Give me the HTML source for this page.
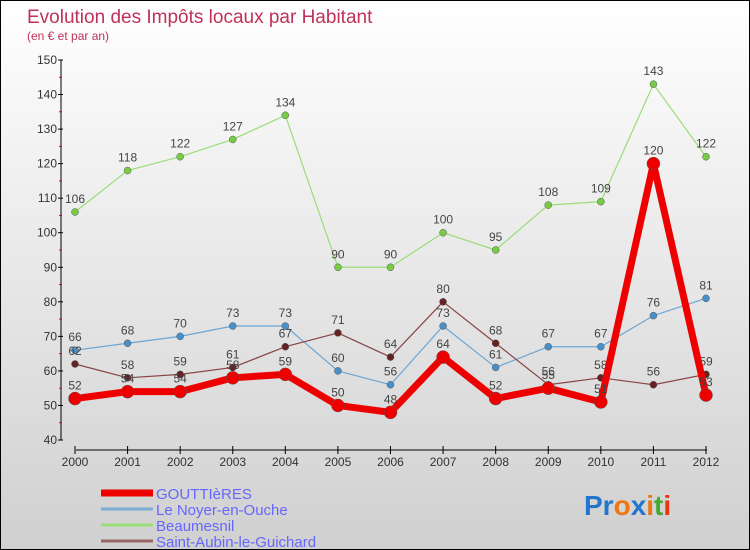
<!DOCTYPE html>
<html><head><meta charset="utf-8"><style>
body{margin:0}
#wrap{width:748px;height:548px;border:1px solid #000;background:linear-gradient(#fff,#d0d0d0);position:relative;font-family:"Liberation Sans",sans-serif;overflow:hidden}
</style></head><body>
<div id="wrap">
<svg id="chart" width="748" height="548"></svg>
</div>
<script>
const years=["2000","2001","2002","2003","2004","2005","2006","2007","2008","2009","2010","2011","2012"];
const gouttieres=[52,54,54,58,59,50,48,64,52,55,51,120,53];
const noyer=[66,68,70,73,73,60,56,73,61,67,67,76,81];
const beaumesnil=[106,118,122,127,134,90,90,100,95,108,109,143,122];
const saintAubin=[62,58,59,61,67,71,64,80,68,56,58,56,59];
const yTicks=[40,50,60,70,80,90,100,110,120,130,140,150];
const NS="http://www.w3.org/2000/svg";
const svg=document.getElementById('chart');
function x(i){return 75+i*(706-75)/12-1;}
function y(v){return 440-(v-40)*380/110-1;}
function mk(t,a,p){const e=document.createElementNS(NS,t);for(const k in a)e.setAttribute(k,a[k]);(p||svg).appendChild(e);return e;}
function txt(s,a){const e=mk('text',a);e.textContent=s;return e;}
let t=txt('Evolution des Impôts locaux par Habitant',{x:26,y:22,fill:'#c0305a','font-size':19});

t=txt('(en € et par an)',{x:26,y:39,fill:'#c0305a','font-size':12});

let ax=mk('line',{x1:60,y1:59,x2:60,y2:439,stroke:'#000'});

ax=mk('line',{x1:75,y1:449,x2:706,y2:449,stroke:'#000'});

yTicks.forEach(v=>{mk('line',{x1:57,y1:y(v),x2:62,y2:y(v),stroke:'#000'});
 if(v<150)mk('line',{x1:58,y1:y(v+5),x2:61,y2:y(v+5),stroke:'#e00'});
 const l=txt(v,{x:56,y:y(v)+4,'text-anchor':'end','font-size':12,fill:'#333'});
 });
years.forEach((yr,i)=>{mk('line',{x1:x(i),y1:445,x2:x(i),y2:453,stroke:'#000'});
 const l=txt(yr,{x:x(i),y:465,'text-anchor':'middle','font-size':12,fill:'#333'});
 });
function series(d,col,dot,w,r,name,below){
 const g=mk('g',{});
 
 mk('polyline',{points:d.map((v,i)=>x(i)+','+y(v)).join(' '),fill:'none',stroke:col,'stroke-width':w,'stroke-linejoin':'round'},g);
 d.forEach((v,i)=>{const c=mk('circle',{cx:x(i),cy:y(v),r:r,fill:dot,stroke:'#555','stroke-width':0.5},g);
  
  const l=mk('text',{x:x(i),y:y(v)+(below?20:-9),'text-anchor':'middle','font-size':12,fill:'#444'},g);l.textContent=v;});
}
series(beaumesnil,'#99dd77','#77cc44',1.2,3.5,'series-beaumesnil');
series(noyer,'#6aa6d6','#4a90c8',1.2,3.5,'series-le-noyer-en-ouche');
series(saintAubin,'#884444','#662222',1.2,3.5,'series-saint-aubin-le-guichard');
series(gouttieres,'#ee0000','#ee0000',7,6.5,'series-gouttieres');
const leg=[['GOUTTIèRES','#ee0000',7],['Le Noyer-en-Ouche','#7aaed6',3],['Beaumesnil','#99dd77',3],['Saint-Aubin-le-Guichard','#996666',3]];
leg.forEach((L,i)=>{const g=mk('g',{});
 
 const yy=492+i*16;mk('line',{x1:100,y1:yy,x2:152,y2:yy,stroke:L[1],'stroke-width':L[2]},g);
 const tt=mk('text',{x:155,y:yy+6,'font-size':15,fill:'#6666ff'},g);tt.textContent=L[0];});
const lg=mk('text',{x:583,y:514,'font-size':28,'font-weight':'bold'});

[['Pr','#2277cc'],['o','#ee7711'],['x','#2277cc'],['i','#ee7711'],['t','#44aa33'],['i','#ee3311']].forEach(p=>{const s=mk('tspan',{fill:p[1]},lg);s.textContent=p[0];});
</script>
</body></html>
